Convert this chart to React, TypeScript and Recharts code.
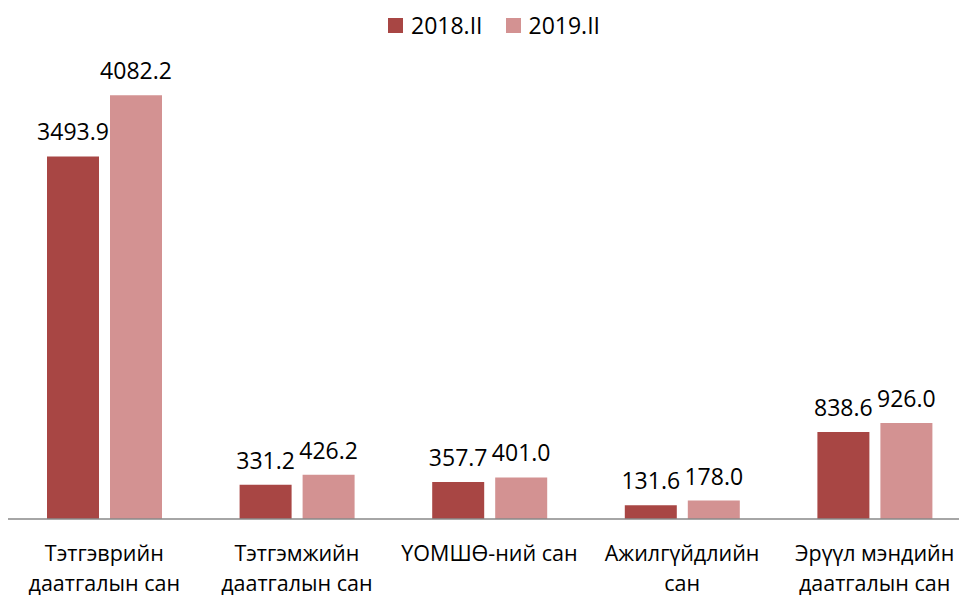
import React from "react";
import { BarChart, Bar, XAxis, YAxis, LabelList } from "recharts";

// tick labels, one entry per category, split into the lines shown under the axis
const categories = [
  ["Тэтгэврийн", "даатгалын сан"],
  ["Тэтгэмжийн", "даатгалын сан"],
  ["ҮОМШӨ-ний сан"],
  ["Ажилгүйдлийн", "сан"],
  ["Эрүүл мэндийн", "даатгалын сан"],
];
const values2018 = [3493.9, 331.2, 357.7, 131.6, 838.6];
const values2019 = [4082.2, 426.2, 401.0, 178.0, 926.0];
const seriesNames = ["2018.II", "2019.II"];

const DARK = "#A84644";
const LIGHT = "#D39292";

const chartData = categories.map((lines, i) => ({
  name: lines.join(" "),
  lines,
  a: values2018[i],
  b: values2019[i],
}));

const CategoryTick = (props: any) => {
  const { x, y, index } = props;
  const lines: string[] = chartData[index]?.lines ?? [];
  return (
    <text x={x} y={y} textAnchor="middle" fill="#000" fontSize={21.5}>
      {lines.map((l, i) => (
        <tspan key={i} x={x} dy={i === 0 ? 42 : 29.5}>
          {l}
        </tspan>
      ))}
    </text>
  );
};

const fmt = (v: any) => Number(v).toFixed(1);

export default function App() {
  return (
    <div
      style={{
        position: "absolute",
        left: 0,
        top: 0,
        width: 959,
        height: 596,
        overflow: "hidden",
        background: "#fff",
        fontFamily: "'Open Sans', 'DejaVu Sans', sans-serif",
      }}
    >
      <div
        style={{
          position: "absolute",
          top: 10,
          left: 388,
          display: "flex",
          alignItems: "center",
          fontSize: 23,
          color: "#000",
          lineHeight: "30px",
        }}
      >
        {seriesNames.map((s, i) => (
          <div key={s} style={{ display: "flex", alignItems: "center", marginRight: 23 }}>
            <span
              style={{
                display: "inline-block",
                width: 15,
                height: 15,
                background: i === 0 ? DARK : LIGHT,
                marginRight: 8,
              }}
            />
            {s}
          </div>
        ))}
      </div>
      <BarChart
        width={971}
        height={596}
        data={chartData}
        margin={{ top: 52, right: 0, bottom: 0, left: 8 }}
        barSize={52}
        barGap={11}
      >
        <XAxis
          dataKey="name"
          axisLine={{ stroke: "#898989", strokeWidth: 1.5 }}
          tickLine={false}
          tickSize={0}
          tickMargin={0}
          height={77}
          interval={0}
          tick={<CategoryTick />}
        />
        <YAxis hide domain={[0, 4500]} />
        <Bar dataKey="a" name={seriesNames[0]} fill={DARK} isAnimationActive={false}>
          <LabelList dataKey="a" position="top" offset={16} fontSize={23} fill="#000" formatter={fmt} />
        </Bar>
        <Bar dataKey="b" name={seriesNames[1]} fill={LIGHT} isAnimationActive={false}>
          <LabelList dataKey="b" position="top" offset={16} fontSize={23} fill="#000" formatter={fmt} />
        </Bar>
      </BarChart>
    </div>
  );
}
